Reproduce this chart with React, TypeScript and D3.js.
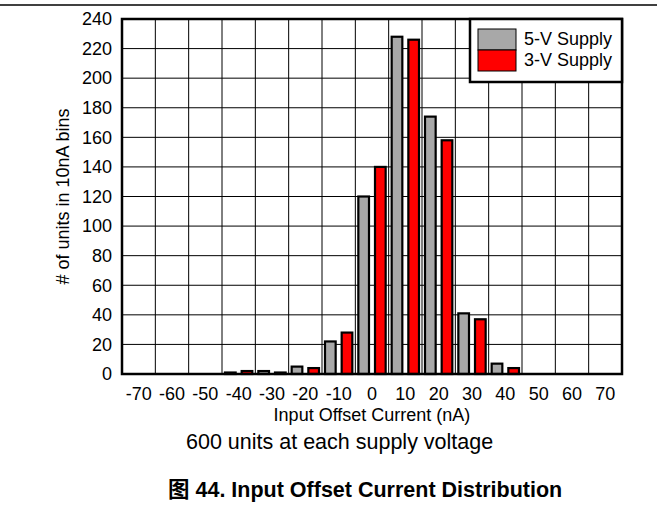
import * as d3 from "d3";

// bins of 10nA, labelled by centre value
const bins = [-70, -60, -50, -40, -30, -20, -10, 0, 10, 20, 30, 40, 50, 60, 70];
const supply5V = [0, 0, 0, 1, 2, 5, 22, 120, 228, 174, 41, 7, 0, 0, 0];
const supply3V = [0, 0, 0, 2, 1, 4, 28, 140, 226, 158, 37, 4, 0, 0, 0];
const seriesNames = ["5-V Supply", "3-V Supply"];
const seriesColors = ["#a8a8a8", "#ff0000"];
const yTicks = [0, 20, 40, 60, 80, 100, 120, 140, 160, 180, 200, 220, 240];

const width = 658;
const height = 506;
const marginLeft = 122;
const marginRight = 36;
const marginTop = 19;
const marginBottom = 132;
const font = "'Liberation Sans', Arial, 'Noto Sans CJK SC', sans-serif";

export default function App() {
  const x = d3
    .scaleBand<number>()
    .domain(bins)
    .range([marginLeft, width - marginRight])
    .padding(0);

  // two bars inside each bin
  const xs = d3
    .scaleBand<number>()
    .domain([0, 1])
    .range([0, x.bandwidth()])
    .paddingInner(0.36)
    .paddingOuter(0.18);

  const y = d3
    .scaleLinear()
    .domain([0, 240])
    .range([height - marginBottom, marginTop]);

  const values = [supply5V, supply3V];
  const plotRight = width - marginRight;
  const plotBottom = height - marginBottom;
  const gridX = d3.range(bins.length + 1).map((i) => marginLeft + i * x.step());

  return (
    <div style={{ position: "fixed", left: 0, top: 0 }}>
      <svg width={width} height={height} style={{ display: "block", background: "white" }} fontFamily={font}>
        {/* rule across the top of the page */}
        <line x1={0} x2={657} y1={5} y2={5} stroke="black" strokeWidth={1.5} />

        {/* grid */}
        <g stroke="black" strokeWidth={1}>
          {yTicks.map((t) => (
            <line key={"h" + t} x1={marginLeft} x2={plotRight} y1={y(t)} y2={y(t)} />
          ))}
          {gridX.map((gx, i) => (
            <line key={"v" + i} x1={gx} x2={gx} y1={marginTop} y2={plotBottom} />
          ))}
        </g>

        {/* bars */}
        {values.map((vals, s) => (
          <g key={s} fill={seriesColors[s]} stroke="black" strokeWidth={2.2}>
            {vals.map((v, i) => (
              <rect
                key={i}
                x={(x(bins[i]) ?? 0) + (xs(s) ?? 0)}
                y={y(v)}
                width={xs.bandwidth()}
                height={y(0) - y(v)}
              />
            ))}
          </g>
        ))}

        {/* frame */}
        <rect
          x={marginLeft}
          y={marginTop}
          width={plotRight - marginLeft}
          height={plotBottom - marginTop}
          fill="none"
          stroke="black"
          strokeWidth={2.5}
        />

        {/* y tick labels */}
        <g fontSize={18} textAnchor="end">
          {yTicks.map((t) => (
            <text key={t} x={marginLeft - 10} y={y(t)} dy="0.35em">
              {t}
            </text>
          ))}
        </g>

        {/* x tick labels */}
        <g fontSize={18} textAnchor="middle">
          {bins.map((b) => (
            <text key={b} x={(x(b) ?? 0) + x.bandwidth() / 2} y={400}>
              {b}
            </text>
          ))}
        </g>

        <text x={(marginLeft + plotRight) / 2} y={421} fontSize={18} textAnchor="middle">
          Input Offset Current (nA)
        </text>
        <text
          transform={`translate(69,${(marginTop + plotBottom) / 2}) rotate(-90)`}
          fontSize={18}
          textAnchor="middle"
        >
          # of units in 10nA bins
        </text>

        {/* legend */}
        <rect x={470} y={marginTop} width={plotRight - 470} height={63} fill="white" stroke="black" strokeWidth={2.5} />
        {seriesNames.map((name, s) => (
          <g key={name}>
            <rect x={478} y={29 + s * 21} width={38} height={21} fill={seriesColors[s]} stroke="black" strokeWidth={1} />
            <text x={524} y={45 + s * 21} fontSize={18}>
              {name}
            </text>
          </g>
        ))}

        <text x={186} y={449} fontSize={21.5}>
          600 units at each supply voltage
        </text>
        <text x={168} y={497} fontSize={21.5} fontWeight="bold">
          图 44. Input Offset Current Distribution
        </text>
      </svg>
    </div>
  );
}
